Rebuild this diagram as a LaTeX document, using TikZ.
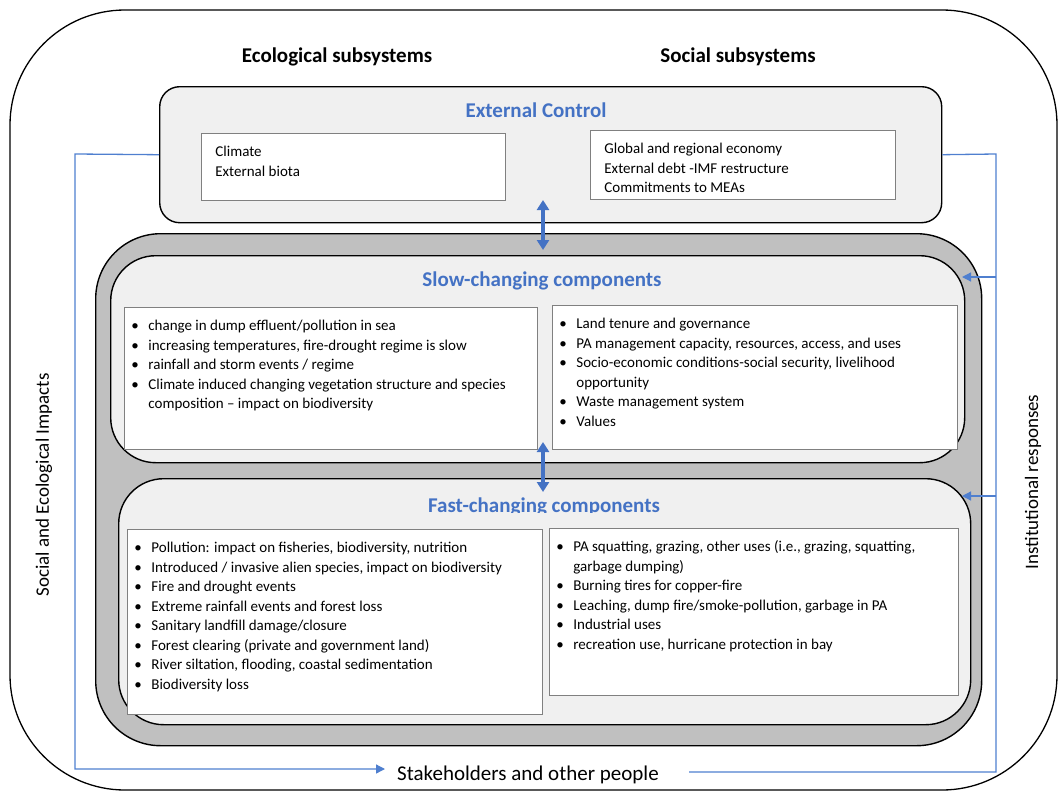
\documentclass[tikz,border=0pt]{standalone}
\usepackage{fontspec}
\setmainfont{Carlito}
\usetikzlibrary{arrows.meta}
\definecolor{tblue}{HTML}{4472C4}
\definecolor{lineblue}{HTML}{4F7FCF}
\definecolor{panel}{HTML}{F0F0F0}
\definecolor{band}{HTML}{C0C0C0}
\definecolor{edgegray}{HTML}{808080}
\newcommand\bitem[1]{\par\noindent\hangindent=20pt\hangafter=1\makebox[20pt][l]{\hspace{3pt}\textbullet}\strut#1}
\newcommand\ptext[3]{\parbox[t][#2][t]{#1}{\fontsize{15}{19.5}\selectfont#3}}
\tikzset{
  outerbox/.style={draw=black, line width=1.3pt, rounded corners=115pt},
  ppanel/.style={draw=black, line width=1.4pt, fill=panel, rounded corners=#1, anchor=north west, inner sep=0pt},
  ibox/.style={draw=edgegray, line width=0.8pt, fill=white, anchor=north west, inner xsep=4pt, inner ysep=9.5pt},
  cbox/.style={draw=edgegray, line width=0.8pt, fill=white, anchor=north west, inner xsep=14pt, inner ysep=9.5pt},
  header/.style={font=\fontsize{21}{25}\selectfont\bfseries, anchor=base},
  ptitle/.style={font=\fontsize{21}{25}\selectfont\bfseries, text=tblue, anchor=base},
  sidelabel/.style={font=\fontsize{19}{23}\selectfont, rotate=90},
  conn/.style={draw=lineblue, line width=1.3pt},
  connarrow/.style={conn, -{Triangle[width=9pt,length=9pt]}},
  dblarrow/.style={draw=tblue, line width=3.5pt, {Triangle[width=12pt,length=10pt]}-{Triangle[width=12pt,length=10pt]}}
}
\begin{document}
\begin{tikzpicture}[x=1pt,y=-1pt]
\useasboundingbox (0,0) rectangle (1060,792);
% outer frame
\draw[outerbox] (10,10) rectangle (1057,790);
% headers
\node[header] (eco) at (337,63) {Ecological subsystems};
\node[header] (soc) at (738,63) {Social subsystems};
% external control
\node[ppanel=20pt, minimum width=782pt, minimum height=136pt] (ext) at (159,86) {};
\node[ptitle] (extT) at (536,117) {External Control};
\node[cbox] (clim) at (201,133) {\ptext{276pt}{48pt}{\strut Climate\\\strut External biota}};
\node[cbox] (glob) at (590,130) {\ptext{277pt}{50pt}{\strut Global and regional economy\\\strut External debt -IMF restructure\\\strut Commitments to MEAs}};
% core band
\node[ppanel=65pt, fill=band, minimum width=886pt, minimum height=512pt] (core) at (95,233) {};
% slow
\node[ppanel=45pt, minimum width=854pt, minimum height=207pt] (slow) at (110,255) {};
\node[ptitle] (slowT) at (542,286) {Slow-changing components};
\node[ibox] (slowL) at (124,307) {\ptext{405pt}{123pt}{%
\bitem{change in dump effluent/pollution in sea}
\bitem{increasing temperatures, fire-drought regime is slow}
\bitem{rainfall and storm events / regime}
\bitem{Climate induced changing vegetation structure and species\newline composition -- impact on biodiversity}}};
\node[ibox] (slowR) at (552,305) {\ptext{397pt}{125pt}{%
\bitem{Land tenure and governance}
\bitem{PA management capacity, resources, access, and uses}
\bitem{Socio-economic conditions-social security, livelihood\newline opportunity}
\bitem{Waste management system}
\bitem{Values}}};
% fast
\node[ppanel=45pt, minimum width=852pt, minimum height=246pt] (fast) at (118,478) {};
\begin{scope}
\clip (300,480) rectangle (800,512.5);
\node[ptitle] (fastT) at (544,512) {Fast-changing components};
\end{scope}
\node[ibox] (fastL) at (127,529) {\ptext{407pt}{166pt}{%
\bitem{Pollution: impact on fisheries, biodiversity, nutrition}
\bitem{Introduced / invasive alien species, impact on biodiversity}
\bitem{Fire and drought events}
\bitem{Extreme rainfall events and forest loss}
\bitem{Sanitary landfill damage/closure}
\bitem{Forest clearing (private and government land)}
\bitem{River siltation, flooding, coastal sedimentation}
\bitem{Biodiversity loss}}};
\node[ibox] (fastR) at (549,528) {\ptext{401pt}{148pt}{%
\bitem{PA squatting, grazing, other uses (i.e., grazing, squatting,\newline garbage dumping)}
\bitem{Burning tires for copper-fire}
\bitem{Leaching, dump fire/smoke-pollution, garbage in PA}
\bitem{Industrial uses}
\bitem{recreation use, hurricane protection in bay}}};
% double arrows
\coordinate (a1t) at (543,200);
\coordinate (a1b) at (543,250);
\coordinate (a2t) at (543,442);
\coordinate (a2b) at (543,492);
\draw[dblarrow] (a1t) -- (a1b);
\draw[dblarrow] (a2t) -- (a2b);
% bottom label and side labels
\node[font=\fontsize{21}{25}\selectfont, anchor=base] (stk) at (528,780) {Stakeholders and other people};
\node[sidelabel] (impacts) at (44,485) {Social and Ecological Impacts};
\node[sidelabel] (inst) at (1033,482) {Institutional responses};
% feedback connectors
\coordinate (lTop) at (75,154);
\coordinate (lBot) at (75,769);
\coordinate (lEnd) at (385,769);
\draw[connarrow] (ext.west) -- (lTop) -- (lBot) -- (lEnd);
\coordinate (rTop) at (996,154);
\coordinate (rBot) at (996,772);
\coordinate (rEnd) at (689,772);
\draw[conn] (ext.east) -- (rTop) -- (rBot) -- (rEnd);
\coordinate (rSlow) at (996,277);
\coordinate (slowTip) at (962,277);
\coordinate (rFast) at (996,496);
\coordinate (fastTip) at (962,496);
\draw[connarrow] (rSlow) -- (slowTip);
\draw[connarrow] (rFast) -- (fastTip);
\end{tikzpicture}
\end{document}
